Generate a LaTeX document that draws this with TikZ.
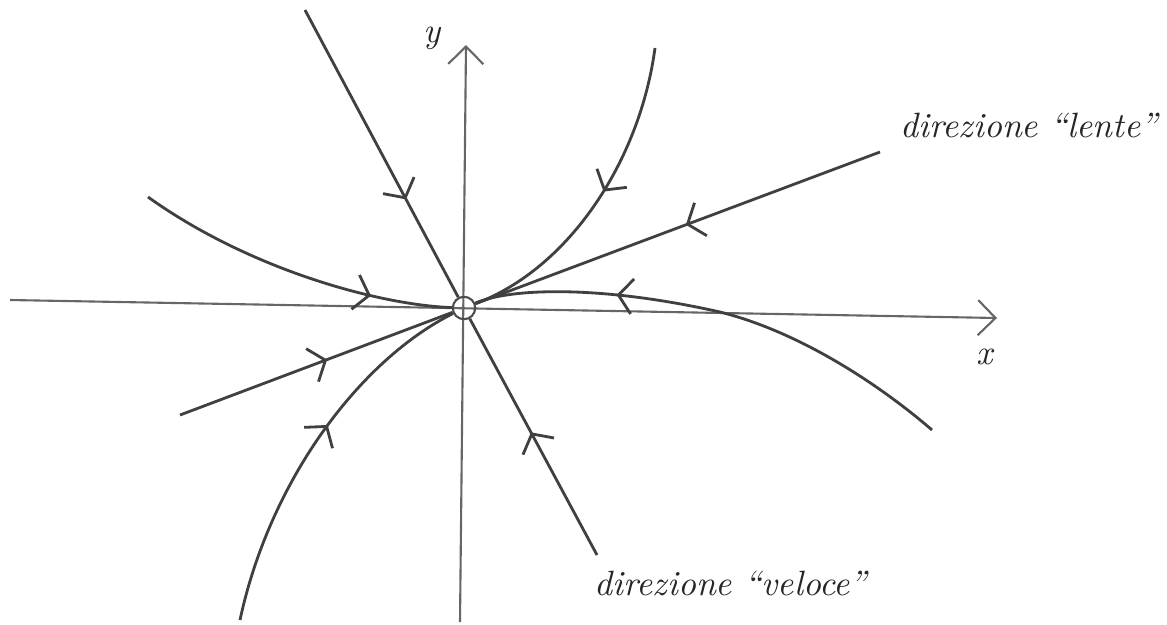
\documentclass[tikz,border=0pt]{standalone}
\usepackage{amsmath}
\usepackage{tikz}
\usetikzlibrary{arrows.meta,decorations.markings}

\tikzset{
  traj/.style={draw=black!75, line width=0.8pt},
  axis/.style={draw=black!60, line width=0.6pt, -{Straight Barb[length=5pt,width=10pt]}},
  flow at/.style={postaction={decorate, decoration={markings,
      mark=at position #1 with {\arrow{Straight Barb[length=4pt,width=10pt,line width=0.8pt]}}}}},
  lab/.style={font=\itshape, text=black!85}
}

\begin{document}
\begin{tikzpicture}[x=0.01cm, y=-0.01cm]
            \useasboundingbox (0,0) rectangle (1167,624);
            % axes
            \coordinate (xl) at (10,300);
            \coordinate (xr) at (997,318);
            \coordinate (yb) at (460,622);
            \coordinate (yt) at (466,45);
            \draw[axis] (xl) -- (xr);
            \draw[axis] (yb) -- (yt);
            \node[lab] (ylab) at (432,38) {y};
            \node[lab] (xlab) at (985,357) {x};
            % equilibrium point
            \node[circle, draw=black!70, line width=0.6pt, inner sep=0pt, minimum size=14pt/2.2] (O) at (464,308) {};
            % fast direction
            \coordinate (f1) at (305,10);
            \coordinate (f2) at (597,555);
            \draw[traj, flow at=0.66] (f1) -- (O);
            \draw[traj, flow at=0.52] (f2) -- (O);
            % slow direction
            \coordinate (s1) at (880,152);
            \coordinate (s2) at (180,415);
            \draw[traj, flow at=0.48] (s1) -- (O);
            \draw[traj, flow at=0.54] (s2) -- (O);
            % other trajectories
            \coordinate (t1) at (655,48);
            \coordinate (t2) at (148,197);
            \coordinate (t3) at (240,620);
            \coordinate (t4) at (932,430);
            \draw[traj, flow at=0.47] (t1) .. controls (640,160) and (570,268) .. (O);
            \draw[traj, flow at=0.75] (t2) .. controls (250,270) and (380,305) .. (O);
            \draw[traj, flow at=0.56] (t3) .. controls (270,480) and (360,360) .. (O);
            \draw[traj, flow at=0.71] (t4) .. controls (880,385) and (800,332) .. (720,312)
                  .. controls (600,285) and (510,288) .. (O);
            % labels
            \node[lab, anchor=east, inner sep=1pt] (lente) at (1162,125) {direzione ``lente''};
            \node[lab] (veloce) at (731,583) {direzione ``veloce''};
        \end{tikzpicture}
\end{document}
